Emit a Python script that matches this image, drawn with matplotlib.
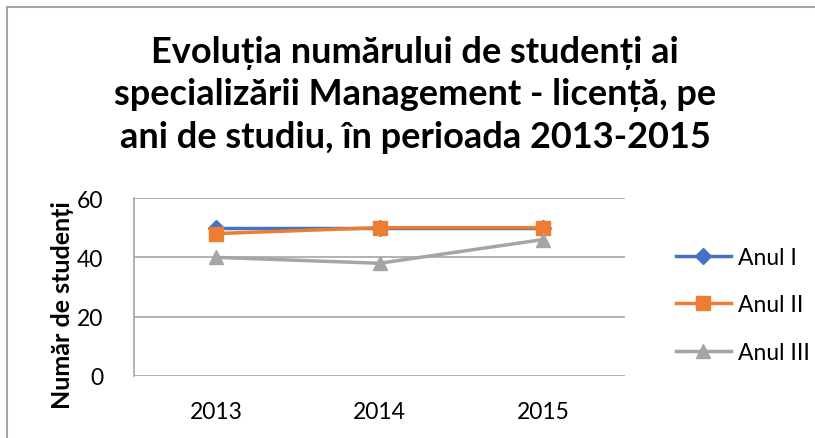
import matplotlib
matplotlib.use("Agg")
import matplotlib.pyplot as plt
from matplotlib.lines import Line2D

years = ["2013", "2014", "2015"]
anul_1 = [50, 50, 50]
anul_2 = [48, 50, 50]
anul_3 = [40, 38, 46]
series_names = ["Anul I", "Anul II", "Anul III"]
yticks = [0, 20, 40, 60]

plt.rcParams['font.family'] = ['Lato', 'DejaVu Sans']

W, H = 815, 439
fig = plt.figure(figsize=(W / 100, H / 100), dpi=100)

# outer chart border (top and left visible)
fig.add_artist(Line2D([7 / W, 1], [1 - 8 / H, 1 - 8 / H], color="#a6a6a6", lw=1.5))
fig.add_artist(Line2D([7 / W, 7 / W], [0, 1 - 8 / H], color="#a6a6a6", lw=1.5))

ax = fig.add_axes([134 / W, 1 - 377 / H, (625 - 134) / W, (377 - 199) / H])

x = list(range(len(years)))
ax.plot(x, anul_1, color="#4472c4", lw=2.5, marker="D", ms=8, label=series_names[0])
ax.plot(x, anul_2, color="#ed7d31", lw=2.5, marker="s", ms=10, label=series_names[1])
ax.plot(x, anul_3, color="#a5a5a5", lw=2.5, marker="^", ms=10, label=series_names[2])

ax.set_xlim(-0.5, 2.5)
ax.set_ylim(0, 60)
ax.set_yticks(yticks)
ax.set_xticks(x)
ax.set_xticklabels(years)
ax.grid(axis="y", color="#a6a6a6", lw=1.2)
ax.set_axisbelow(True)
for s in ["top", "right", "bottom"]:
    ax.spines[s].set_visible(False)
ax.spines["left"].set_color("#a6a6a6")
ax.spines["left"].set_linewidth(1.2)
ax.tick_params(length=0, labelsize=16.5, colors="black")
ax.tick_params(axis="y", pad=22)
ax.tick_params(axis="x", pad=18)

ax.set_ylabel("Număr de studenți", fontsize=18, fontweight="bold", va="center")
ax.yaxis.set_label_coords((63 - 134) / (625 - 134), (377 - 305) / (377 - 199))

fig.text(415 / W, 1 - 95 / H,
         "Evoluția numărului de studenți ai\nspecializării Management - licență, pe\nani de studiu, în perioada 2013-2015",
         ha="center", va="center", fontsize=26, fontweight="bold", linespacing=1.32)

leg = fig.legend(loc="center left", bbox_to_anchor=(655 / W, 1 - 306 / H), frameon=False,
                 fontsize=16.5, handlelength=2.4, labelspacing=1.15, handletextpad=0.3)

fig.savefig("out.png", dpi=100)
